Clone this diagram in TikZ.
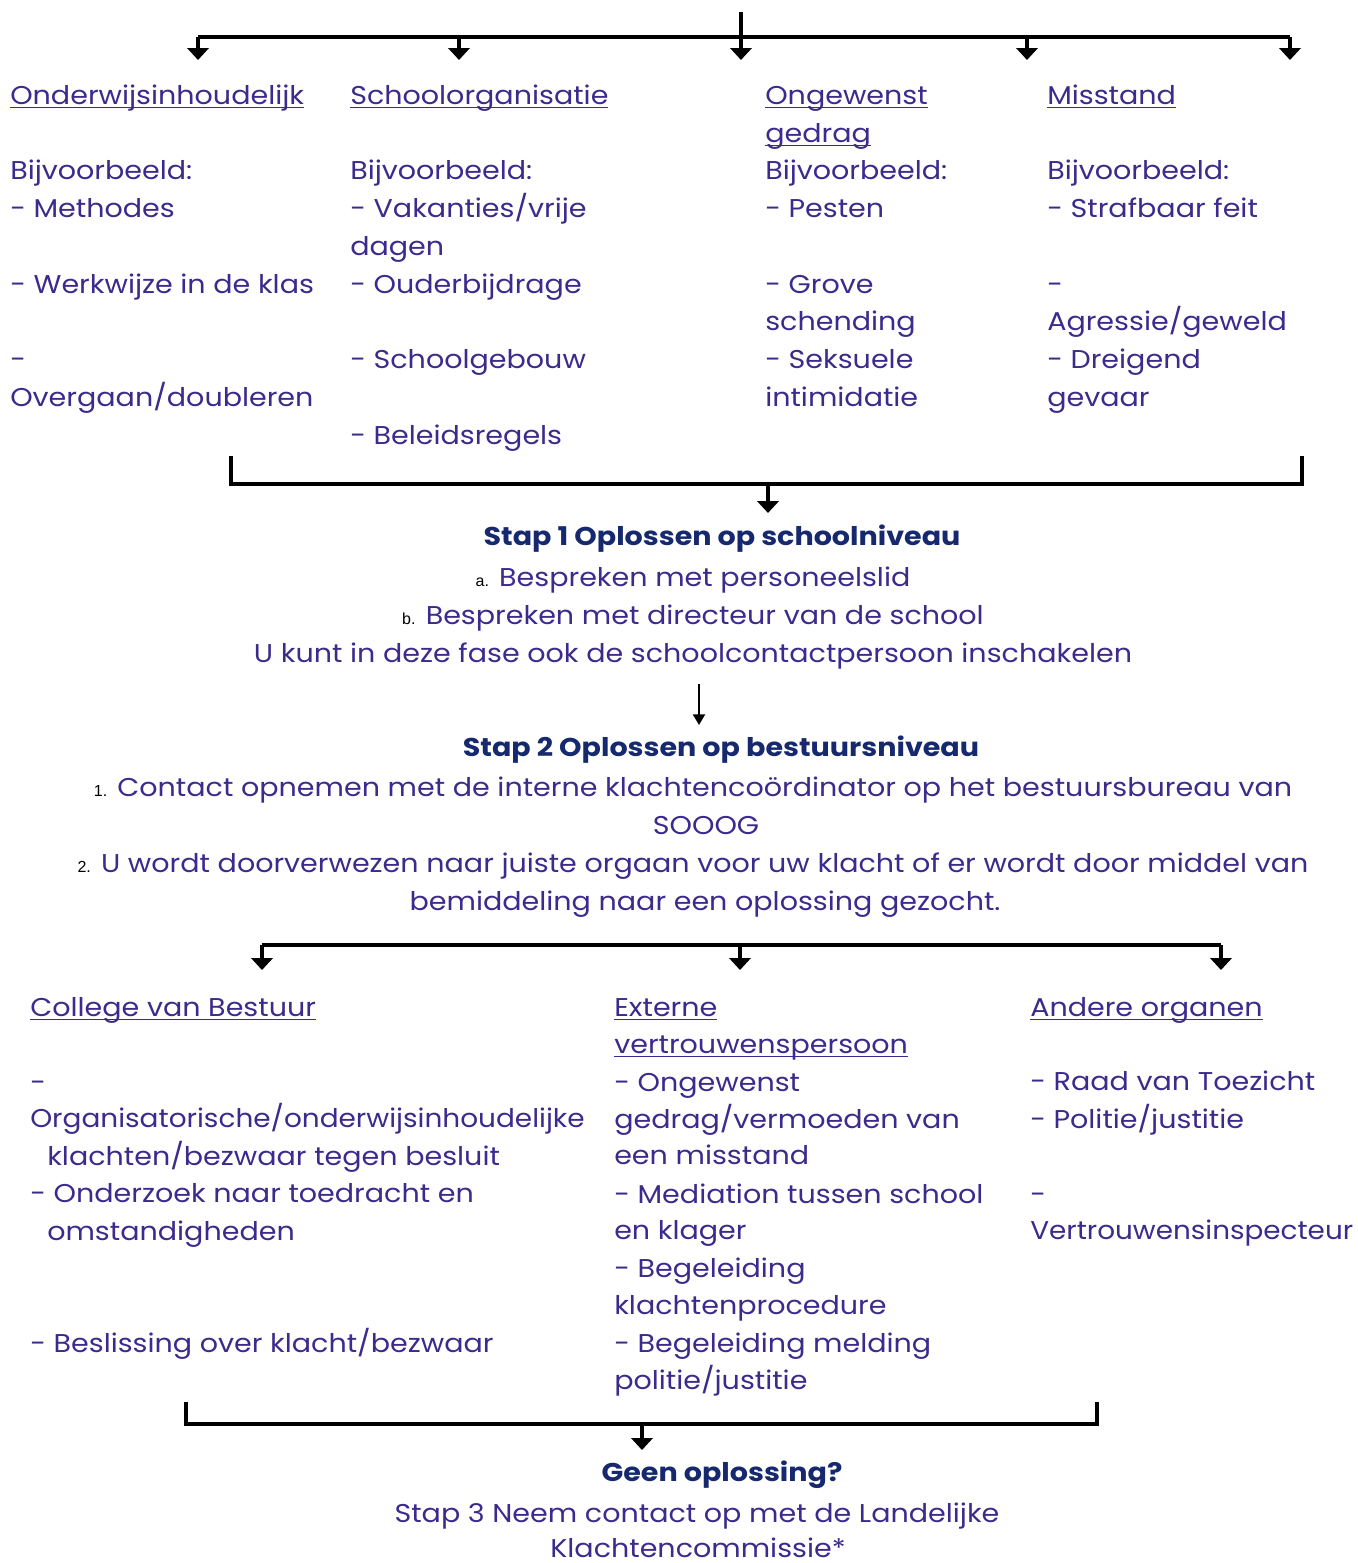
\documentclass[tikz,border=0pt]{standalone}
\usepackage{fontspec}
\setmainfont{Poppins}[FakeStretch=1.11]
\newfontfamily\arialfont{Liberation Sans}
\usetikzlibrary{arrows.meta}
\definecolor{txt}{RGB}{60,42,140}
\definecolor{head}{RGB}{22,40,110}
\newcommand{\numlab}[1]{{\arialfont\fontsize{12}{14}\selectfont\color{black}#1}}
\newcommand{\myul}[1]{\setbox0=\hbox{#1}\rlap{\raisebox{-3pt}{\rule{\wd0}{1pt}}}\box0}
\tikzset{
  lbl/.style={anchor=base west, inner sep=0pt, text=txt, font=\fontsize{19.3}{23}\selectfont},
  ctr/.style={anchor=base, inner sep=0pt, text=txt, font=\fontsize{19.3}{23}\selectfont},
  hd/.style={anchor=base, inner sep=0pt, text=head, font=\fontsize{19.3}{23}\selectfont\bfseries},
  conn/.style={line width=3pt, black},
  arr/.style={line width=3pt, black, -{Triangle[width=16pt,length=9pt]}},
  thinarr/.style={line width=1.6pt, black, -{Triangle[width=9pt,length=8pt]}},
}
\begin{document}
\begin{tikzpicture}[x=0.75pt,y=-0.75pt]
\useasboundingbox (0,0) rectangle (1357,1563);
% ---------- top distributor ----------
\coordinate (top) at (741,12);
\coordinate (hl) at (198,37);
\coordinate (hr) at (1290,37);
\coordinate (j1) at (198,37);  \coordinate (t1) at (198,60);
\coordinate (j2) at (459,37);  \coordinate (t2) at (459,60);
\coordinate (t3) at (741,60);
\coordinate (j4) at (1027,37); \coordinate (t4) at (1027,60);
\coordinate (j5) at (1290,37); \coordinate (t5) at (1290,60);
\draw[conn] (hl) -- (hr);
\draw[arr] (top) -- (t3);
\draw[arr] (j1) -- (t1);
\draw[arr] (j2) -- (t2);
\draw[arr] (j4) -- (t4);
\draw[arr] (j5) -- (t5);
% ---------- column 1 ----------
\node[lbl] (c1a) at (10,104) {\myul{Onderwijsinhoudelijk}};
\node[lbl] (c1b) at (10,179) {Bijvoorbeeld:};
\node[lbl] (c1c) at (10,217) {- Methodes};
\node[lbl] (c1d) at (10,293) {- Werkwijze in de klas};
\node[lbl] (c1e) at (10,368) {-};
\node[lbl] (c1f) at (10,406) {Overgaan/doubleren};
% ---------- column 2 ----------
\node[lbl] (c2a) at (350,104) {\myul{Schoolorganisatie}};
\node[lbl] (c2b) at (350,179) {Bijvoorbeeld:};
\node[lbl] (c2c) at (350,217) {- Vakanties/vrije};
\node[lbl] (c2d) at (350,255) {dagen};
\node[lbl] (c2e) at (350,293) {- Ouderbijdrage};
\node[lbl] (c2f) at (350,368) {- Schoolgebouw};
\node[lbl] (c2g) at (350,444) {- Beleidsregels};
% ---------- column 3 ----------
\node[lbl] (c3a) at (765,104) {\myul{Ongewenst}};
\node[lbl] (c3b) at (765,142) {\myul{gedrag}};
\node[lbl] (c3c) at (765,179) {Bijvoorbeeld:};
\node[lbl] (c3d) at (765,217) {- Pesten};
\node[lbl] (c3e) at (765,293) {- Grove};
\node[lbl] (c3f) at (765,330) {schending};
\node[lbl] (c3g) at (765,368) {- Seksuele};
\node[lbl] (c3h) at (765,406) {intimidatie};
% ---------- column 4 ----------
\node[lbl] (c4a) at (1047,104) {\myul{Misstand}};
\node[lbl] (c4b) at (1047,179) {Bijvoorbeeld:};
\node[lbl] (c4c) at (1047,217) {- Strafbaar feit};
\node[lbl] (c4d) at (1047,293) {-};
\node[lbl] (c4e) at (1047,330) {Agressie/geweld};
\node[lbl] (c4f) at (1047,368) {- Dreigend};
\node[lbl] (c4g) at (1047,406) {gevaar};
% ---------- bracket 1 ----------
\coordinate (b1l) at (231,456);
\coordinate (b1lb) at (231,484);
\coordinate (b1rb) at (1302,484);
\coordinate (b1r) at (1302,456);
\coordinate (b1m) at (768,484);
\coordinate (b1t) at (768,513);
\draw[conn] (b1l) -- (b1lb) -- (b1rb) -- (b1r);
\draw[arr] (b1m) -- (b1t);
% ---------- stap 1 ----------
\node[hd] (s1) at (722,545) {Stap 1 Oplossen op schoolniveau};
\node[ctr] (s1a) at (693,586) {\numlab{a.} Bespreken met personeelslid};
\node[ctr] (s1b) at (693,624) {\numlab{b.} Bespreken met directeur van de school};
\node[ctr] (s1c) at (693,662) {U kunt in deze fase ook de schoolcontactpersoon inschakelen};
\coordinate (a2s) at (699,684);
\coordinate (a2e) at (699,725);
\draw[thinarr] (a2s) -- (a2e);
% ---------- stap 2 ----------
\node[hd] (s2) at (721,756) {Stap 2 Oplossen op bestuursniveau};
\node[ctr] (s2a) at (693,796) {\numlab{1.} Contact opnemen met de interne klachtencoördinator op het bestuursbureau van};
\node[ctr] (s2b) at (706,834) {SOOOG};
\node[ctr] (s2c) at (693,872) {\numlab{2.} U wordt doorverwezen naar juiste orgaan voor uw klacht of er wordt door middel van};
\node[ctr] (s2d) at (705,910) {bemiddeling naar een oplossing gezocht.};
% ---------- bracket 2 ----------
\coordinate (d1) at (262,945);  \coordinate (e1) at (262,970);
\coordinate (d2) at (740,945);  \coordinate (e2) at (740,970);
\coordinate (d3) at (1221,945); \coordinate (e3) at (1221,970);
\draw[conn] (d1) -- (d3);
\draw[arr] (d1) -- (e1);
\draw[arr] (d2) -- (e2);
\draw[arr] (d3) -- (e3);
% ---------- column A ----------
\node[lbl] (ca1) at (30,1016) {\myul{College van Bestuur}};
\node[lbl] (ca2) at (30,1091) {-};
\node[lbl] (ca3) at (30,1127) {\scalebox{0.978}[1]{Organisatorische/onderwijsinhoudelijke}};
\node[lbl] (ca4) at (47,1165) {klachten/bezwaar tegen besluit};
\node[lbl] (ca5) at (30,1202) {- Onderzoek naar toedracht en};
\node[lbl] (ca6) at (47,1240) {omstandigheden};
\node[lbl] (ca7) at (30,1352) {- Beslissing over klacht/bezwaar};
% ---------- column B ----------
\node[lbl] (cb1) at (614,1016) {\myul{Externe}};
\node[lbl] (cb2) at (614,1053) {\myul{vertrouwenspersoon}};
\node[lbl] (cb3) at (614,1091) {- Ongewenst};
\node[lbl] (cb4) at (614,1128) {gedrag/vermoeden van};
\node[lbl] (cb5) at (614,1164) {een misstand};
\node[lbl] (cb6) at (614,1203) {- Mediation tussen school};
\node[lbl] (cb7) at (614,1239) {en klager};
\node[lbl] (cb8) at (614,1277) {- Begeleiding};
\node[lbl] (cb9) at (614,1314) {klachtenprocedure};
\node[lbl] (cb10) at (614,1352) {- Begeleiding melding};
\node[lbl] (cb11) at (614,1389) {politie/justitie};
% ---------- column C ----------
\node[lbl] (cc1) at (1030,1016) {\myul{Andere organen}};
\node[lbl] (cc2) at (1030,1090) {- Raad van Toezicht};
\node[lbl] (cc3) at (1030,1128) {- Politie/justitie};
\node[lbl] (cc4) at (1030,1203) {-};
\node[lbl] (cc5) at (1030,1239) {\scalebox{0.975}[1]{Vertrouwensinspecteur}};
% ---------- bracket 3 ----------
\coordinate (b3l) at (186,1402);
\coordinate (b3lb) at (186,1424);
\coordinate (b3rb) at (1097,1424);
\coordinate (b3r) at (1097,1402);
\coordinate (b3m) at (642,1424);
\coordinate (b3t) at (642,1450);
\draw[conn] (b3l) -- (b3lb) -- (b3rb) -- (b3r);
\draw[arr] (b3m) -- (b3t);
% ---------- end ----------
\node[hd] (g1) at (722,1481) {Geen oplossing?};
\node[ctr] (g2) at (697,1522) {Stap 3 Neem contact op met de Landelijke};
\node[ctr] (g3) at (698,1557) {Klachtencommissie*};
\end{tikzpicture}
\end{document}
